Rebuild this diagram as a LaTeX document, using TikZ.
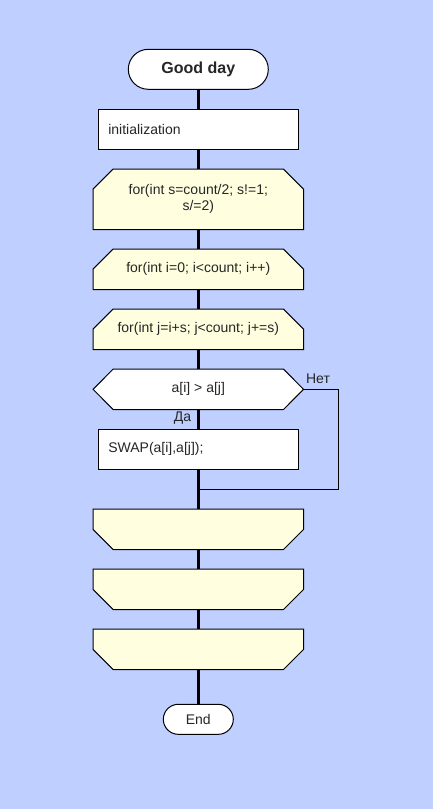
\documentclass[tikz,border=0pt]{standalone}
\usepackage{fontspec}
\setmainfont{Liberation Sans}
\usetikzlibrary{backgrounds}
\definecolor{bgblue}{RGB}{191,207,255}
\definecolor{loopfill}{RGB}{255,255,224}
\begin{document}
\begin{tikzpicture}[x=1pt,y=-1pt,
  txt/.style={font=\fontsize{14}{16}\selectfont, text=black!85},
  slot/.style={txt, inner sep=0pt, minimum width=210pt, minimum height=40pt, align=center},
  term/.style={txt, draw=black, line width=1pt, fill=white, inner sep=0pt},
  procbox/.style={txt, draw=black, line width=1pt, fill=white, minimum height=40pt, text width=180pt, inner xsep=10pt, inner ysep=0pt, align=left},
  shapeline/.style={draw=black, line width=1pt},
  flow/.style={draw=black, line width=3pt},
  thinline/.style={draw=black, line width=1pt},
  lbl/.style={txt, inner sep=0pt}
]
\useasboundingbox (0,0) rectangle (433,809);
% nodes
\node[term, minimum width=140pt, minimum height=40pt, rounded corners=20pt, font=\fontsize{16}{18}\selectfont\bfseries] (start) at (198.3,69.3) {Good day};
\node[procbox] (init) at (198.3,129.3) {initialization};
\node[slot, minimum height=60pt] (l1) at (198.3,199.3) {for(int s=count/2; s!=1;\\ s/=2)};
\node[slot] (l2) at (198.3,269.3) {for(int i=0; i<count; i++)};
\node[slot] (l3) at (198.3,329.3) {for(int j=i+s; j<count; j+=s)};
\node[slot] (dec) at (198.3,389.3) {a[i] > a[j]};
\node[procbox] (swap) at (198.3,449.3) {SWAP(a[i],a[j]);};
\node[slot] (e1) at (198.3,529.3) {};
\node[slot] (e2) at (198.3,589.3) {};
\node[slot] (e3) at (198.3,649.3) {};
\node[term, minimum width=70pt, minimum height=30pt, rounded corners=15pt] (end) at (198.3,719.3) {End};
\node[lbl] (no) at (318,379) {Нет};
\node[lbl] (yes) at (182.5,418.5) {Да};
\coordinate (jn) at (198.3,489.3);
% shapes behind text
\begin{scope}[on background layer]
  \fill[bgblue] (0,0) rectangle (433,809);
  \foreach \n in {l1,l2,l3}{
    \filldraw[shapeline, fill=loopfill] ([xshift=20pt]\n.north west) -- ([xshift=-20pt]\n.north east) -- ([yshift=-20pt]\n.north east) -- (\n.south east) -- (\n.south west) -- ([yshift=-20pt]\n.north west) -- cycle;
  }
  \foreach \n in {e1,e2,e3}{
    \filldraw[shapeline, fill=loopfill] (\n.north west) -- (\n.north east) -- ([yshift=20pt]\n.south east) -- ([xshift=-20pt]\n.south east) -- ([xshift=20pt]\n.south west) -- ([yshift=20pt]\n.south west) -- cycle;
  }
  \filldraw[shapeline, fill=white] (dec.west) -- ([xshift=20pt]dec.north west) -- ([xshift=-20pt]dec.north east) -- (dec.east) -- ([xshift=-20pt]dec.south east) -- ([xshift=20pt]dec.south west) -- cycle;
\end{scope}
% connectors
\draw[flow] (start) -- (init);
\draw[flow] (init) -- (l1);
\draw[flow] (l1) -- (l2);
\draw[flow] (l2) -- (l3);
\draw[flow] (l3) -- (dec);
\draw[flow] (dec) -- (swap);
\draw[flow] (swap) -- (e1);
\draw[flow] (e1) -- (e2);
\draw[flow] (e2) -- (e3);
\draw[flow] (e3) -- (end);
\draw[thinline] (dec.east) -- ++(35,0) |- (jn);
\end{tikzpicture}
\end{document}
